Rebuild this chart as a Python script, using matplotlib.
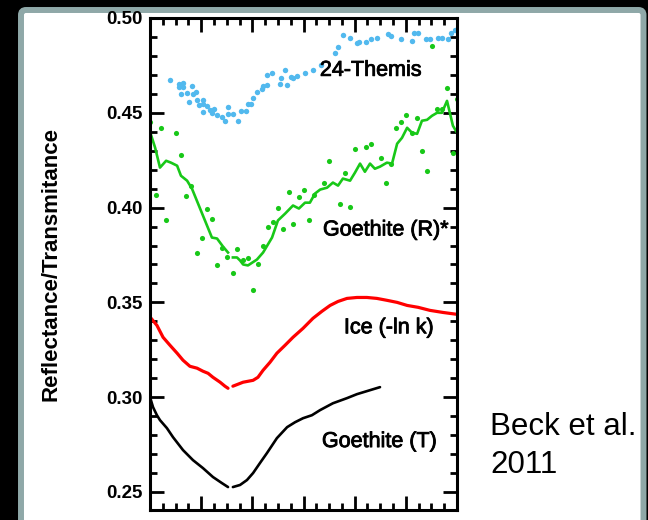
import numpy as np
import matplotlib.pyplot as plt
import matplotlib.patheffects as pe
from matplotlib.patches import FancyBboxPatch
from matplotlib.ticker import MultipleLocator

plt.rcParams['font.family'] = ['Liberation Sans', 'DejaVu Sans']
nan = np.nan

# 24-Themis spectrum (wavelength in um, reflectance)
themisWl = [2.678, 2.713, 2.729, 2.713, 2.729, 2.764, 2.721, 2.745, 2.780, 2.768,
            2.752, 2.784, 2.807, 2.792, 2.807, 2.823, 2.807, 2.835, 2.850, 2.842,
            2.862, 2.881, 2.893, 2.905, 2.905, 2.924, 2.944, 2.956, 2.975, 2.983,
            2.995, 3.003, 3.018, 3.038, 3.042, 3.057, 3.057, 3.077, 3.108, 3.112,
            3.128, 3.136, 3.151, 3.159, 3.175, 3.206, 3.237, 3.268, 3.323, 3.335,
            3.354, 3.382, 3.409, 3.417, 3.444, 3.464, 3.487, 3.530, 3.542, 3.581,
            3.624, 3.632, 3.648, 3.679, 3.694, 3.726, 3.741, 3.765, 3.777, 3.792]
themisR = [0.4674, 0.4653, 0.4658, 0.4637, 0.4637, 0.4642, 0.4600, 0.4605, 0.4611, 0.4600,
           0.4558, 0.4568, 0.4568, 0.4542, 0.4547, 0.4537, 0.4505, 0.4516, 0.4521, 0.4500,
           0.4489, 0.4479, 0.4458, 0.4532, 0.4495, 0.4495, 0.4458, 0.4511, 0.4511, 0.4547,
           0.4547, 0.4579, 0.4611, 0.4626, 0.4642, 0.4647, 0.4700, 0.4711, 0.4653, 0.4684,
           0.4726, 0.4647, 0.4689, 0.4684, 0.4695, 0.4711, 0.4726, 0.4753, 0.4816, 0.4847,
           0.4911, 0.4895, 0.4868, 0.4874, 0.4874, 0.4889, 0.4895, 0.4916, 0.4905, 0.4889,
           0.4879, 0.4921, 0.4921, 0.4889, 0.4889, 0.4895, 0.4895, 0.4889, 0.4921, 0.4937]

# goethite reflectance, raw points
goeRWl = [2.600, 2.643, 2.702, 2.721, 2.623, 2.663, 2.760, 2.741, 2.823, 2.842,
          2.803, 2.784, 2.881, 2.901, 2.862, 2.924, 2.940, 2.964, 2.983, 3.003,
          3.022, 3.042, 3.061, 3.081, 3.100, 3.120, 3.143, 3.159, 3.182, 3.202,
          3.222, 3.241, 3.280, 3.300, 3.343, 3.362, 3.382, 3.401, 3.444, 3.464,
          3.503, 3.522, 3.542, 3.562, 3.581, 3.601, 3.624, 3.644, 3.663, 3.683,
          3.702, 3.722, 3.741, 3.761, 3.784, 3.800]
goeRR = [0.4453, 0.4421, 0.4395, 0.4279, 0.4068, 0.3932, 0.4116, 0.4063, 0.3995, 0.3942,
         0.3837, 0.3763, 0.3789, 0.3737, 0.3695, 0.3653, 0.3779, 0.3726, 0.3732, 0.3563,
         0.3705, 0.3800, 0.3900, 0.3926, 0.4000, 0.3889, 0.4084, 0.3911, 0.4058, 0.4095,
         0.3932, 0.4068, 0.4132, 0.4247, 0.4021, 0.4184, 0.4005, 0.4311, 0.4321, 0.4337,
         0.4263, 0.4132, 0.4232, 0.4421, 0.4453, 0.4489, 0.4395, 0.4474, 0.4300, 0.4195,
         0.4853, 0.4521, 0.4521, 0.4632, 0.4289, 0.4574]

# goethite reflectance, smoothed
goeRsWl = [2.600, 2.620, 2.639, 2.663, 2.682, 2.706, 2.721, 2.745, 2.764, 2.842,
           2.862, 2.885, 2.905, nan, 2.924, 2.940, 2.952, 2.964, 2.983, 3.018,
           3.042, 3.077, 3.100, 3.128, 3.159, 3.182, 3.206, 3.225, 3.245, 3.265,
           3.292, 3.315, 3.335, 3.354, 3.382, 3.401, 3.421, 3.440, 3.460, 3.479,
           3.499, 3.526, 3.546, 3.566, 3.585, 3.605, 3.624, 3.644, 3.663, 3.683,
           3.702, 3.722, 3.741, 3.761, 3.784, 3.800]
goeRsR = [0.4400, 0.4316, 0.4211, 0.4247, 0.4237, 0.4221, 0.4168, 0.4142, 0.4100, 0.3842,
          0.3837, 0.3795, 0.3763, nan, 0.3737, 0.3737, 0.3721, 0.3700, 0.3695, 0.3726,
          0.3763, 0.3842, 0.3932, 0.3968, 0.4011, 0.3995, 0.4026, 0.4026, 0.4074, 0.4095,
          0.4105, 0.4132, 0.4116, 0.4153, 0.4142, 0.4184, 0.4232, 0.4189, 0.4232, 0.4205,
          0.4216, 0.4237, 0.4232, 0.4337, 0.4368, 0.4421, 0.4395, 0.4389, 0.4458, 0.4463,
          0.4484, 0.4500, 0.4500, 0.4563, 0.4432, 0.4395]

# ice, -ln k (scaled)
iceWl = [2.600, 2.627, 2.651, 2.678, 2.706, 2.729, 2.756, 2.784, 2.807, 2.827,
         2.846, 2.874, 2.893, 2.905, nan,
         2.924, 2.964, 3.003, 3.022, 3.042, 3.069, 3.096, 3.128, 3.159, 3.198,
         3.237, 3.272, 3.304, 3.335, 3.370, 3.409, 3.448, 3.487, 3.526, 3.566,
         3.605, 3.648, 3.694, 3.745, 3.800]
iceR = [0.3423, 0.3379, 0.3316, 0.3274, 0.3232, 0.3195, 0.3163, 0.3153, 0.3137, 0.3126,
        0.3105, 0.3079, 0.3058, 0.3047, nan,
        0.3058, 0.3079, 0.3089, 0.3105, 0.3142, 0.3184, 0.3232, 0.3274, 0.3316, 0.3363,
        0.3416, 0.3453, 0.3484, 0.3505, 0.3521, 0.3526, 0.3526, 0.3521, 0.3511, 0.3500,
        0.3484, 0.3474, 0.3458, 0.3447, 0.3437]

# goethite transmission
goeTWl = [2.600, 2.612, 2.627, 2.639, 2.666, 2.690, 2.729, 2.768, 2.807, 2.846,
          2.881, 2.905, nan,
          2.924, 2.952, 2.979, 3.003, 3.030, 3.057, 3.096, 3.136, 3.167, 3.198,
          3.233, 3.265, 3.315, 3.370, 3.409, 3.460, 3.499]
goeTR = [0.3000, 0.2947, 0.2905, 0.2879, 0.2837, 0.2789, 0.2721, 0.2668, 0.2626, 0.2579,
         0.2547, 0.2526, nan,
         0.2526, 0.2537, 0.2563, 0.2600, 0.2653, 0.2705, 0.2784, 0.2842, 0.2868, 0.2889,
         0.2905, 0.2932, 0.2968, 0.2995, 0.3016, 0.3037, 0.3053]

blue = '#52b9ee'
green = '#18c818'

fig = plt.figure(figsize=(6.48, 5.2), dpi=100, facecolor='k')

# white slide panel with grey frame
panel = FancyBboxPatch((0.21, -0.3), 6.225, 5.40, boxstyle='round,pad=0,rounding_size=0.05',
                       transform=fig.dpi_scale_trans, facecolor='white',
                       edgecolor='#8fa8a8', linewidth=4.3, zorder=0)
fig.add_artist(panel)

ax = fig.add_axes([150/648, 1-510/520, 307/648, 492/520])
ax.set_facecolor('none')

ax.plot(themisWl, themisR, 'o', color=blue, ms=3.9, mew=0)
ax.plot(goeRWl, goeRR, 'o', color=green, ms=3.7, mew=0)
ax.plot(goeRsWl, goeRsR, '-', color=green, lw=1.9)
ax.plot(iceWl, iceR, '-', color='red', lw=2.3, solid_capstyle='round')
ax.plot(goeTWl, goeTR, '-', color='k', lw=1.9, solid_capstyle='round')

# curve labels, slightly heavier than plain regular weight
heavy = [pe.withStroke(linewidth=0.6, foreground='k')]
ax.text(3.264, 0.4695, '24-Themis', fontsize=15.5, va='baseline', path_effects=heavy)
ax.text(3.276, 0.3853, 'Goethite (R)*', fontsize=15.5, va='baseline', path_effects=heavy)
ax.text(3.358, 0.3337, 'Ice (-ln k)', fontsize=15.5, va='baseline', path_effects=heavy)
ax.text(3.272, 0.2737, 'Goethite (T)', fontsize=15.5, va='baseline', path_effects=heavy)

ax.set_xlim(2.6, 3.8)
ax.set_ylim(0.2405, 0.50)
ax.xaxis.set_major_locator(MultipleLocator(0.2))
ax.xaxis.set_minor_locator(MultipleLocator(0.05))
ax.yaxis.set_major_locator(MultipleLocator(0.05))
ax.yaxis.set_minor_locator(MultipleLocator(0.01))
ax.tick_params(which='both', direction='in', top=True, right=True, width=2,
               labelbottom=False, pad=5)
ax.tick_params(which='major', length=10)
ax.tick_params(which='minor', length=5)
ax.set_yticks([0.25, 0.30, 0.35, 0.40, 0.45, 0.50])
ax.set_yticklabels(['0.25', '0.30', '0.35', '0.40', '0.45', '0.50'], fontsize=13.5, fontweight='bold')
for s in ax.spines.values():
    s.set_linewidth(2.2)

ax.set_ylabel('Reflectance/Transmitance', fontsize=16, fontweight='bold')
ax.yaxis.set_label_coords(-0.287, 0.5)

fig.text(490/648, 1-435/520, 'Beck et al.', fontsize=22.5, va='baseline')
fig.text(490/648, 1-473/520, '2011', fontsize=22.5, va='baseline')

plt.savefig('out.png', dpi=100, facecolor=fig.get_facecolor())
